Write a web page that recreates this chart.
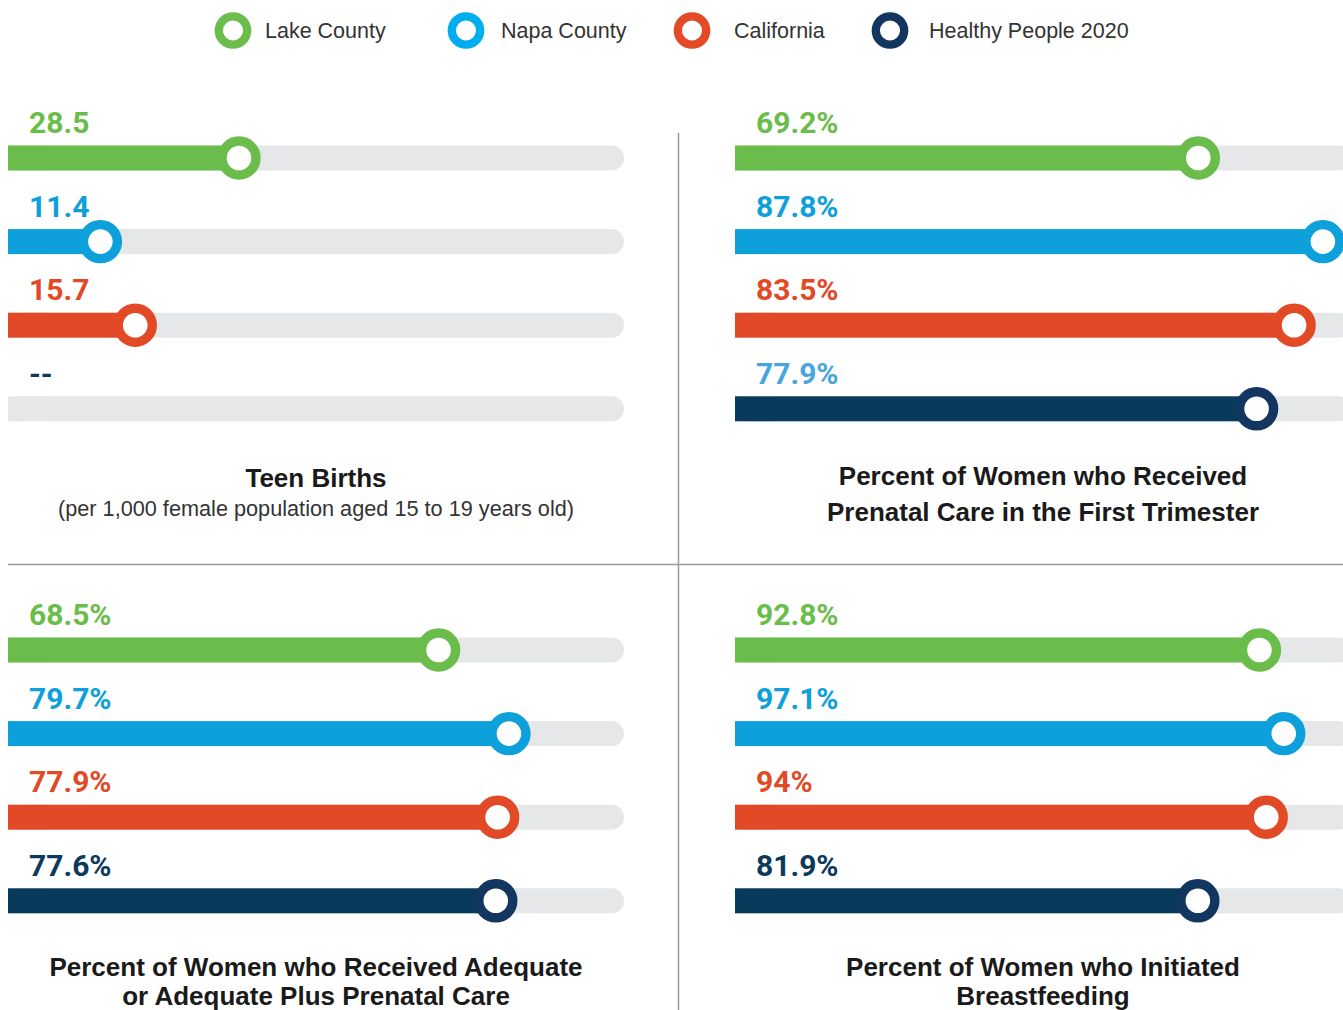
<!DOCTYPE html>
<html>
<head>
<meta charset="utf-8">
<script src="https://cdn.jsdelivr.net/npm/d3@7"></script>
<style>
  body { margin: 0; background: #fff; }
  svg { display: block; }
</style>
</head>
<body>
<div id="container"></div>
<script>
const WIDTH = 1343;
const HEIGHT = 1010;

// series shown in every panel
const series = ['Lake County', 'Napa County', 'California', 'Healthy People 2020'];
const barColors = ['#6abd4a', '#0ea0db', '#e24a27', '#083a5c'];
const ringColors = ['#6abd4a', '#0ea0db', '#e24a27', '#12365f'];
const legendColors = ['#6cbd4c', '#00aeef', '#e24a28', '#12365f'];

// values per panel (null = no value)
const teenBirths = [28.5, 11.4, 15.7, null];
const prenatalFirstTrimester = [69.2, 87.8, 83.5, 77.9];
const adequatePrenatal = [68.5, 79.7, 77.9, 77.6];
const breastfeeding = [92.8, 97.1, 94, 81.9];

const panelValues = [teenBirths, prenatalFirstTrimester, adequatePrenatal, breastfeeding];
const panelSuffix = ['', '%', '%', '%'];
const panelMax = [76, 92, 98, 109];
const panelTitles = [
  ['Teen Births'],
  ['Percent of Women who Received', 'Prenatal Care in the First Trimester'],
  ['Percent of Women who Received Adequate', 'or Adequate Plus Prenatal Care'],
  ['Percent of Women who Initiated', 'Breastfeeding'],
];
const panelSubtitles = ['(per 1,000 female population aged 15 to 19 years old)', null, null, null];
// the Healthy People label is light blue in the second panel
const hpLabelColors = ['#0b3a5c', '#47a6dc', '#0b3a5c', '#0b3a5c'];

// layout
const TRACK_W = 616;
const BAR_H = 25;
const ROW_STEP = 83.6;
const panelPos = [
  { x: 8, y: 0, cx: 316, titleY: [487] },
  { x: 735, y: 0, cx: 1043, titleY: [485, 521] },
  { x: 8, y: 492, cx: 316, titleY: [976, 1005] },
  { x: 735, y: 492, cx: 1043, titleY: [976, 1005] },
];

const svg = d3
  .select('#container')
  .append('svg')
  .attr('width', WIDTH)
  .attr('height', HEIGHT);

// legend
const legendX = [233, 466, 692, 890];
const legendTextX = [265, 501, 734, 929];
const legend = svg
  .append('g')
  .selectAll('g')
  .data(series)
  .enter()
  .append('g');

legend
  .append('circle')
  .attr('cx', (d, i) => legendX[i])
  .attr('cy', 30.5)
  .attr('r', 14.2)
  .attr('fill', '#fff')
  .attr('stroke', (d, i) => legendColors[i])
  .attr('stroke-width', 8.3);

legend
  .append('text')
  .attr('x', (d, i) => legendTextX[i])
  .attr('y', 38)
  .attr('font-family', '"Liberation Sans", Arial, sans-serif')
  .attr('font-size', 21.5)
  .attr('fill', '#333')
  .text((d) => d);

// dividers
svg
  .append('line')
  .attr('x1', 678.5)
  .attr('x2', 678.5)
  .attr('y1', 133)
  .attr('y2', HEIGHT)
  .attr('stroke', '#9a9a9a')
  .attr('stroke-width', 1.5);

svg
  .append('line')
  .attr('x1', 8)
  .attr('x2', WIDTH)
  .attr('y1', 564.5)
  .attr('y2', 564.5)
  .attr('stroke', '#9a9a9a')
  .attr('stroke-width', 1.5);

const rowY = d3
  .scaleLinear()
  .domain([0, 1])
  .range([158, 158 + ROW_STEP]);

panelValues.forEach((values, p) => {
  const pos = panelPos[p];
  const x = d3
    .scaleLinear()
    .domain([0, panelMax[p]])
    .range([pos.x, pos.x + TRACK_W]);

  const g = svg.append('g').attr('transform', `translate(0, ${pos.y})`);

  const row = g
    .selectAll('g.row')
    .data(values.map((v, i) => ({ v, i })))
    .enter()
    .append('g')
    .attr('class', 'row')
    .attr('transform', (d) => `translate(0, ${rowY(d.i)})`);

  // grey track, rounded on the right end only
  row
    .append('rect')
    .attr('x', pos.x)
    .attr('y', -BAR_H / 2)
    .attr('width', TRACK_W)
    .attr('height', BAR_H)
    .attr('rx', BAR_H / 2)
    .attr('fill', '#e6e7e8');

  row
    .append('rect')
    .attr('x', pos.x)
    .attr('y', -BAR_H / 2)
    .attr('width', 40)
    .attr('height', BAR_H)
    .attr('fill', '#e6e7e8');

  const filled = row.filter((d) => d.v !== null);

  filled
    .append('rect')
    .attr('x', pos.x)
    .attr('y', -BAR_H / 2)
    .attr('width', (d) => x(d.v) - pos.x)
    .attr('height', BAR_H)
    .attr('fill', (d) => barColors[d.i]);

  filled
    .append('circle')
    .attr('cx', (d) => x(d.v))
    .attr('r', 17)
    .attr('fill', '#fff')
    .attr('stroke', (d) => ringColors[d.i])
    .attr('stroke-width', 9.4);

  row
    .append('text')
    .attr('x', pos.x + 21)
    .attr('y', -25)
    .attr('font-family', 'Roboto, sans-serif')
    .attr('font-weight', 700)
    .attr('font-size', 30)
    .attr('fill', (d) => (d.i === 3 ? hpLabelColors[p] : barColors[d.i]))
    .text((d) => (d.v === null ? '--' : d.v + panelSuffix[p]));

  // titles
  svg
    .append('g')
    .selectAll('text')
    .data(panelTitles[p])
    .enter()
    .append('text')
    .attr('x', pos.cx)
    .attr('y', (d, i) => pos.titleY[i])
    .attr('text-anchor', 'middle')
    .attr('font-family', '"Liberation Sans", Arial, sans-serif')
    .attr('font-weight', 700)
    .attr('font-size', 26)
    .attr('fill', '#1a1a1a')
    .text((d) => d);

  if (panelSubtitles[p]) {
    svg
      .append('text')
      .attr('x', pos.cx)
      .attr('y', 516)
      .attr('text-anchor', 'middle')
      .attr('font-family', '"Liberation Sans", Arial, sans-serif')
      .attr('font-size', 21.7)
      .attr('fill', '#333')
      .text(panelSubtitles[p]);
  }
});
</script>
</body>
</html>
